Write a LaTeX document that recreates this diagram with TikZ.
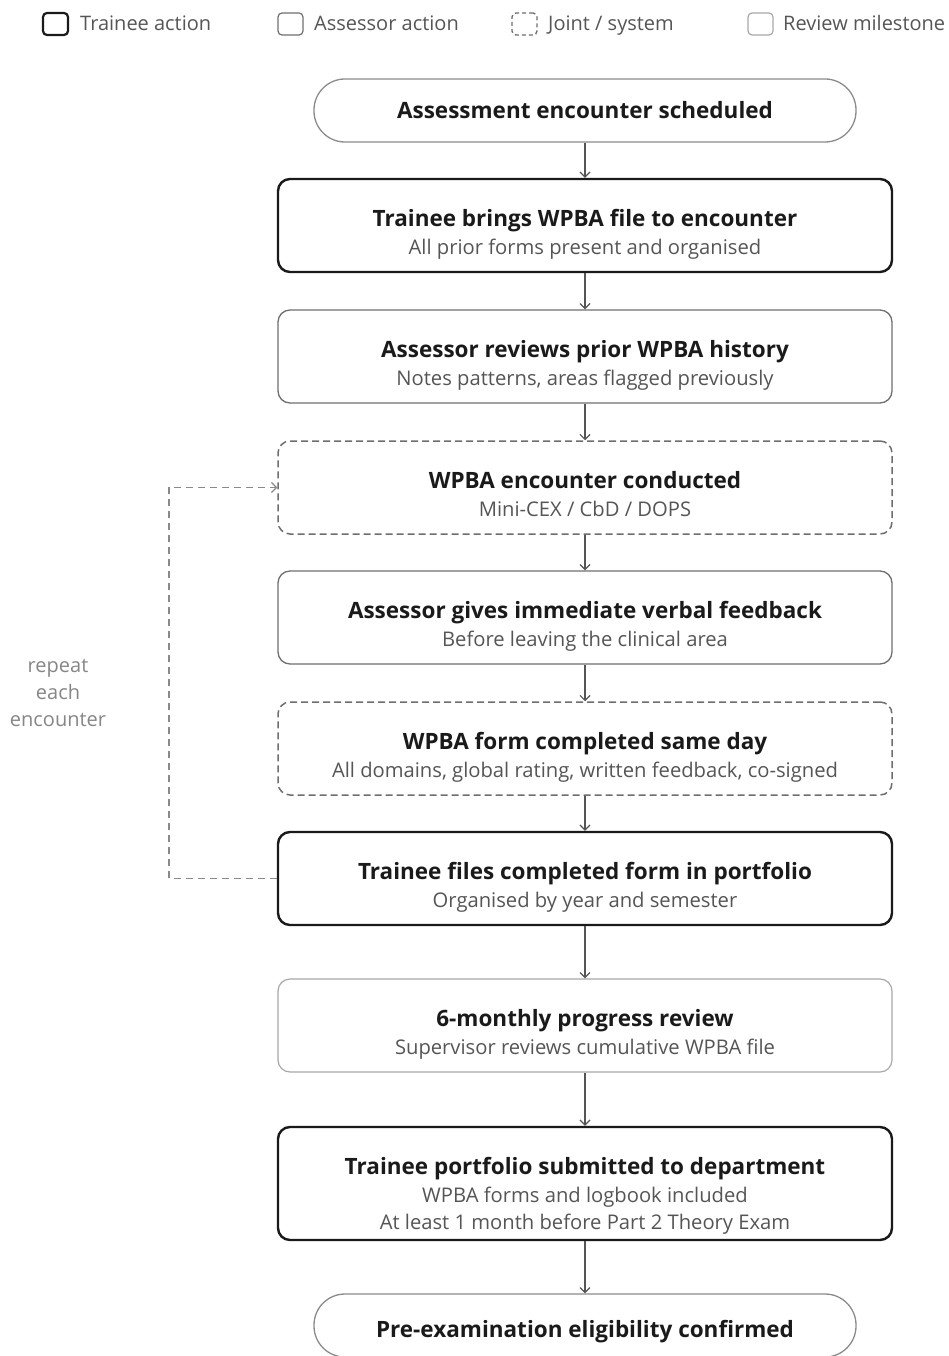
\documentclass[tikz,border=0pt]{standalone}
\usepackage{fontspec}
\setmainfont{Open Sans}
\usetikzlibrary{arrows.meta}
\definecolor{ink}{HTML}{1A1A1A}
\definecolor{subt}{HTML}{555555}
\definecolor{midg}{HTML}{6E6E6E}
\definecolor{lightg}{HTML}{A8A8A8}
\definecolor{termg}{HTML}{8A8A8A}
\definecolor{arrg}{HTML}{555555}
\tikzset{
  box/.style={rectangle, rounded corners=12pt, minimum width=614pt, minimum height=93pt, inner sep=0pt},
  trainee/.style={box, draw=ink, line width=2.4pt},
  assessor/.style={box, draw=midg, line width=1.3pt},
  joint/.style={box, draw=midg, line width=1.5pt, dash pattern=on 7pt off 4pt},
  review/.style={box, draw=lightg, line width=1.2pt},
  term/.style={rectangle, rounded corners=31pt, minimum width=542pt, minimum height=63pt, inner sep=0pt, draw=termg, line width=1.3pt},
  ttl/.style={anchor=base, inner sep=0pt, text=ink, font=\fontsize{22.5}{26}\selectfont\bfseries},
  sub/.style={anchor=base, inner sep=0pt, text=subt, font=\fontsize{20.2}{24}\selectfont},
  leg/.style={anchor=base west, inner sep=0pt, text=subt, font=\fontsize{20}{24}\selectfont},
  flow/.style={draw=arrg, line width=1.2pt, -{Straight Barb[length=5pt,width=10pt]}},
  loop/.style={draw=termg, line width=1.2pt, dash pattern=on 7pt off 5pt, -{Straight Barb[length=5pt,width=10pt]}},
}
\begin{document}
\begin{tikzpicture}[x=1pt,y=-1pt]
\useasboundingbox (0,0) rectangle (948,1356);
% legend
\node[rectangle, rounded corners=4pt, minimum width=25pt, minimum height=22pt, draw=ink, line width=2.2pt] (lg1) at (55.5,24) {};
\node[leg] (lt1) at (80,31) {Trainee action};
\node[rectangle, rounded corners=4pt, minimum width=25pt, minimum height=22pt, draw=midg, line width=1.2pt] (lg2) at (290.5,24) {};
\node[leg] (lt2) at (314,31) {Assessor action};
\node[rectangle, rounded corners=4pt, minimum width=25pt, minimum height=22pt, draw=midg, line width=1.4pt, dash pattern=on 4pt off 3pt] (lg3) at (524.5,24) {};
\node[leg] (lt3) at (548,31) {Joint / system};
\node[rectangle, rounded corners=4pt, minimum width=25pt, minimum height=22pt, draw=lightg, line width=1.2pt] (lg4) at (760.5,24) {};
\node[leg] (lt4) at (783,31) {Review milestone};
% boxes
\node[term] (b1) at (585,110.5) {};
\node[ttl] at (585,119) {Assessment encounter scheduled};
\node[trainee] (b2) at (585,225.5) {};
\node[ttl] at (585,226.5) {Trainee brings WPBA file to encounter};
\node[sub] at (585,254.5) {All prior forms present and organised};
\node[assessor] (b3) at (585,356.5) {};
\node[ttl] at (585,357.5) {Assessor reviews prior WPBA history};
\node[sub] at (585,385.5) {Notes patterns, areas flagged previously};
\node[joint] (b4) at (585,487.5) {};
\node[ttl] at (585,488.5) {WPBA encounter conducted};
\node[sub] at (585,516.5) {Mini-CEX / CbD / DOPS};
\node[assessor] (b5) at (585,617.5) {};
\node[ttl] at (585,618.5) {Assessor gives immediate verbal feedback};
\node[sub] at (585,646.5) {Before leaving the clinical area};
\node[joint] (b6) at (585,748.5) {};
\node[ttl] at (585,749.5) {WPBA form completed same day};
\node[sub] at (585,777.5) {All domains, global rating, written feedback, co-signed};
\node[trainee] (b7) at (585,878.5) {};
\node[ttl] at (585,879.5) {Trainee files completed form in portfolio};
\node[sub] at (585,907.5) {Organised by year and semester};
\node[review] (b8) at (585,1025.5) {};
\node[ttl] at (585,1026.5) {6-monthly progress review};
\node[sub] at (585,1054.5) {Supervisor reviews cumulative WPBA file};
\node[trainee, minimum height=113pt] (b9) at (585,1183.5) {};
\node[ttl] at (585,1174) {Trainee portfolio submitted to department};
\node[sub] at (585,1202) {WPBA forms and logbook included};
\node[sub] at (585,1229) {At least 1 month before Part 2 Theory Exam};
\node[term] (b10) at (585,1325.5) {};
\node[ttl] at (585,1337.5) {Pre-examination eligibility confirmed};
% arrows
\draw[flow] (b1) -- (b2);
\draw[flow] (b2) -- (b3);
\draw[flow] (b3) -- (b4);
\draw[flow] (b4) -- (b5);
\draw[flow] (b5) -- (b6);
\draw[flow] (b6) -- (b7);
\draw[flow] (b7) -- (b8);
\draw[flow] (b8) -- (b9);
\draw[flow] (b9) -- (b10);
% loop
\coordinate (lp1) at (169,878.5);
\coordinate (lp2) at (169,487.5);
\draw[loop] (b7.west) -- (lp1) -- (lp2) -- (b4.west);
\node[align=center, text=lightg!80!black, font=\fontsize{20}{27}\selectfont, inner sep=0pt] (rl) at (58,693) {repeat\\each\\encounter};
\end{tikzpicture}
\end{document}
